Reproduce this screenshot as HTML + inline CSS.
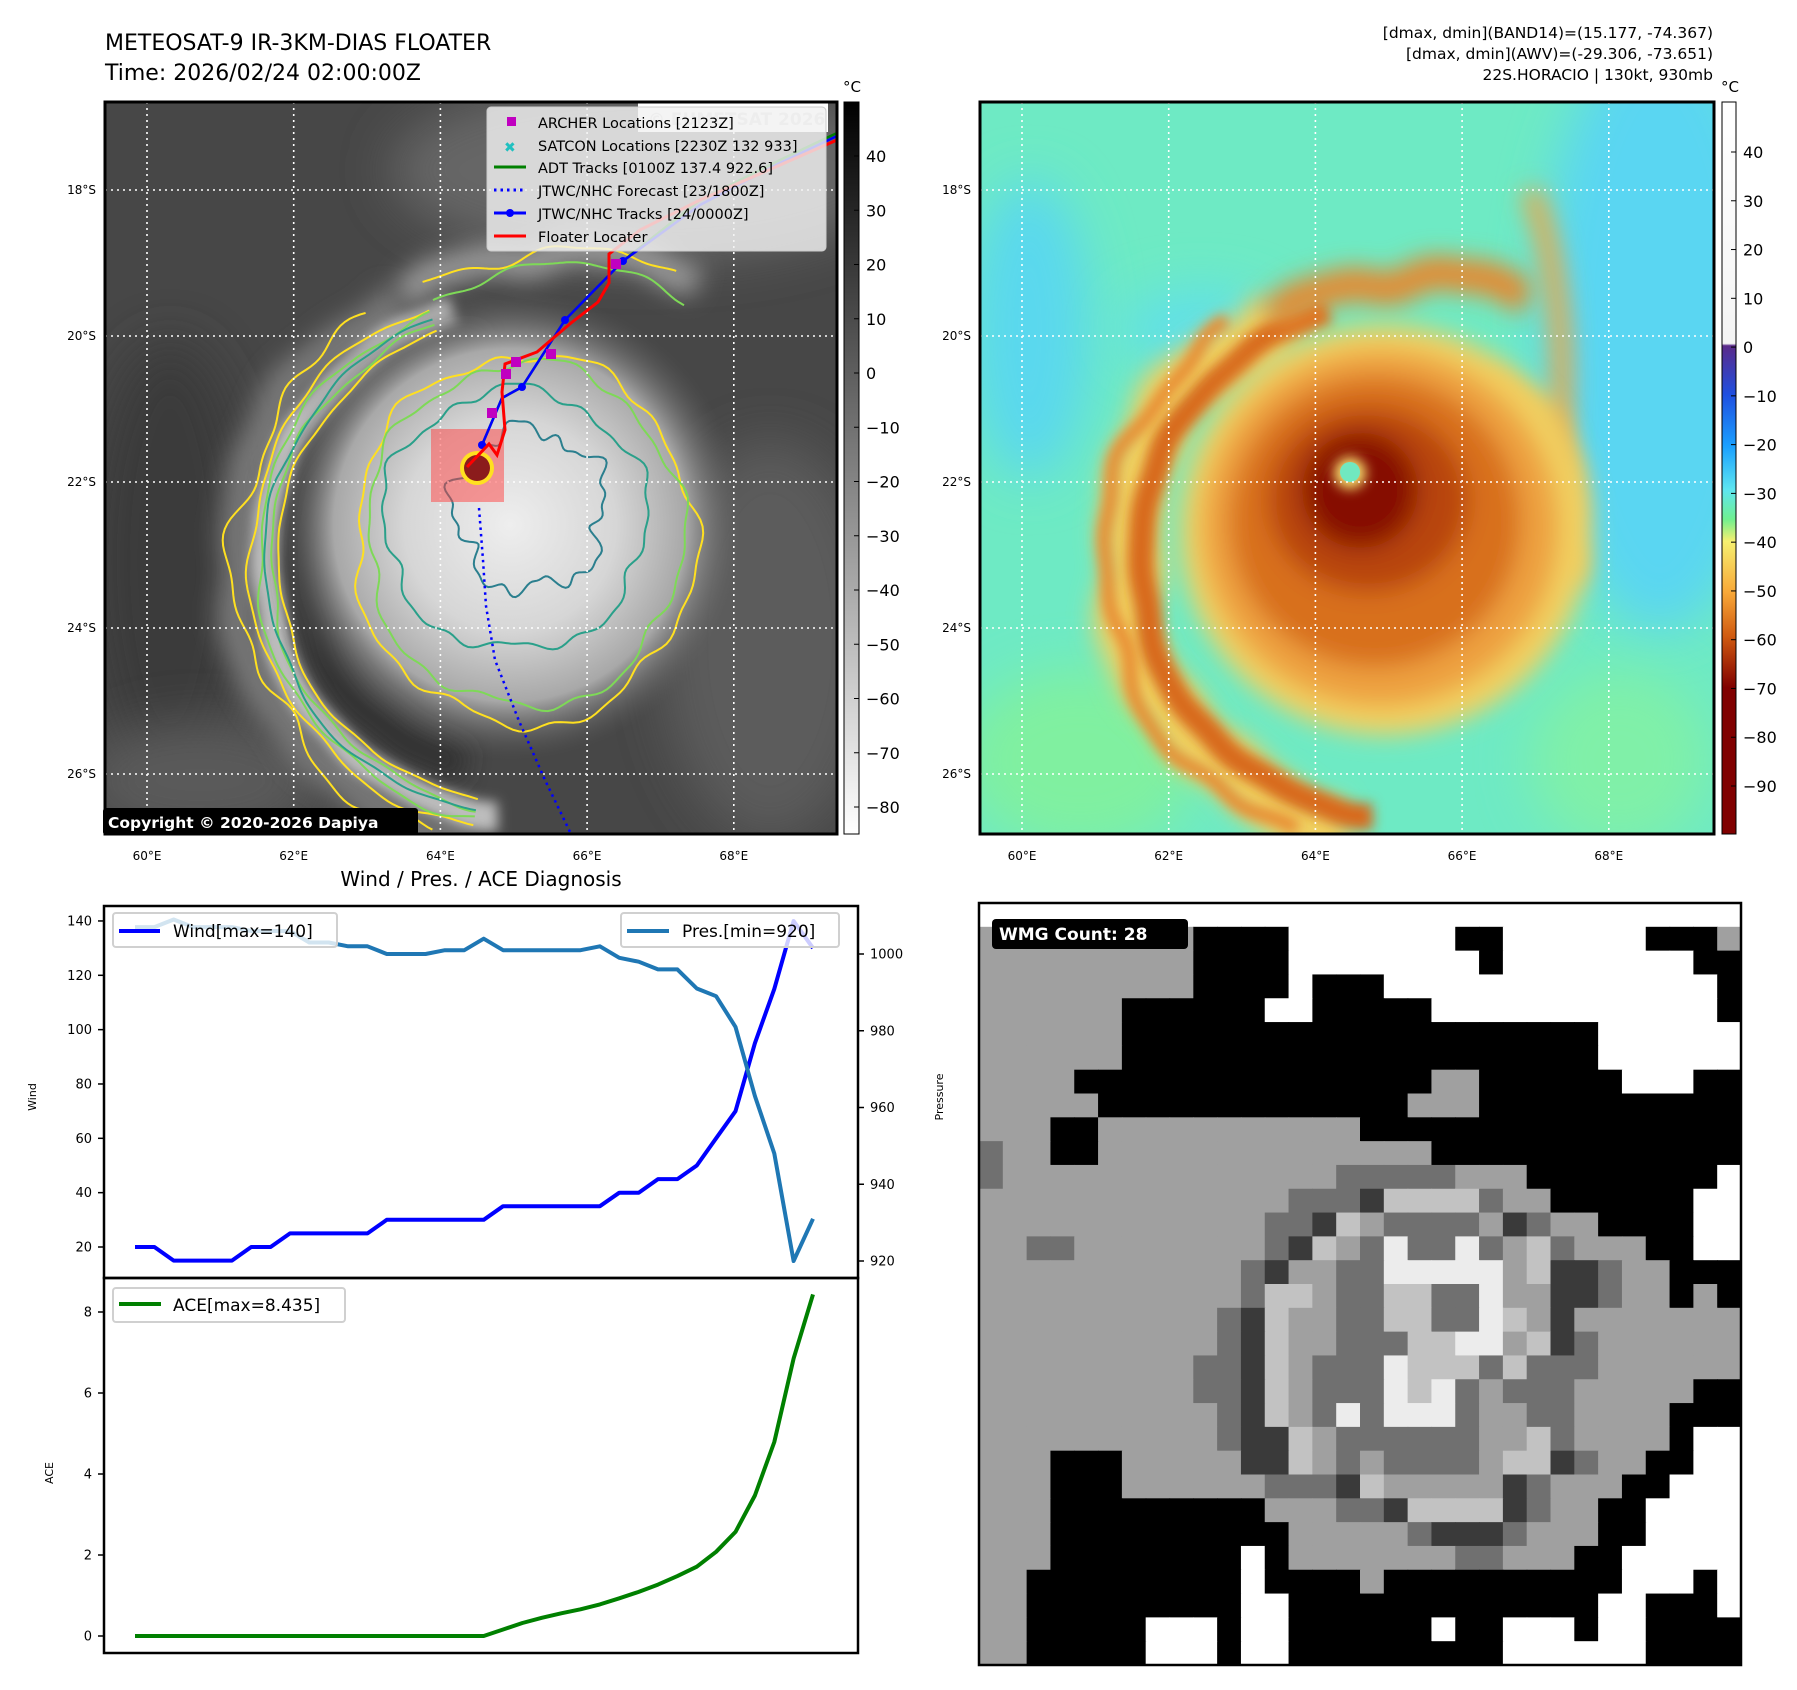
<!DOCTYPE html>
<html><head><meta charset="utf-8"><style>
html,body{margin:0;padding:0;background:#fff;}
svg{display:block;font-family:"DejaVu Sans","Liberation Sans",sans-serif;}
</style></head><body>
<svg id="fig" width="1797" height="1690" viewBox="0 0 1797 1690" xmlns="http://www.w3.org/2000/svg">
<defs>
<filter id="b6" filterUnits="userSpaceOnUse" x="0" y="0" width="1797" height="1690"><feGaussianBlur stdDeviation="6"/></filter>
<filter id="b12" filterUnits="userSpaceOnUse" x="0" y="0" width="1797" height="1690"><feGaussianBlur stdDeviation="12"/></filter>
<filter id="b25" filterUnits="userSpaceOnUse" x="0" y="0" width="1797" height="1690"><feGaussianBlur stdDeviation="25"/></filter>
<clipPath id="clipL"><rect x="105" y="102" width="732" height="732"/></clipPath>
<clipPath id="clipR"><rect x="980" y="102" width="734" height="732"/></clipPath>
<clipPath id="clipW"><rect x="979" y="903" width="762" height="762"/></clipPath>
<radialGradient id="coreL" cx="0.5" cy="0.5" r="0.5">
<stop offset="0" stop-color="#eeeeee"/><stop offset="0.45" stop-color="#d6d6d6"/><stop offset="0.75" stop-color="#a8a8a8"/><stop offset="1" stop-color="#5a5a5a" stop-opacity="0"/></radialGradient>
<linearGradient id="cbL" x1="0" y1="0" x2="0" y2="1"><stop offset="0" stop-color="#000"/><stop offset="1" stop-color="#fff"/></linearGradient>
<linearGradient id="cbR" x1="0" y1="0" x2="0" y2="1">
<stop offset="0" stop-color="#ffffff"/><stop offset="0.33" stop-color="#f4f4f4"/><stop offset="0.333" stop-color="#5a2a8a"/>
<stop offset="0.40" stop-color="#1f4fe0"/><stop offset="0.47" stop-color="#1aa0ff"/><stop offset="0.53" stop-color="#5ee6f0"/>
<stop offset="0.57" stop-color="#70f090"/><stop offset="0.60" stop-color="#f6f070"/><stop offset="0.67" stop-color="#f8a838"/>
<stop offset="0.73" stop-color="#d05a10"/><stop offset="0.80" stop-color="#800000"/><stop offset="1" stop-color="#800000"/></linearGradient>
</defs>

<text x="105" y="50" font-size="22">METEOSAT-9 IR-3KM-DIAS FLOATER</text>
<text x="105" y="80" font-size="22">Time: 2026/02/24 02:00:00Z</text>
<g font-size="15.5" text-anchor="end">
<text x="1713" y="38">[dmax, dmin](BAND14)=(15.177, -74.367)</text>
<text x="1713" y="59">[dmax, dmin](AWV)=(-29.306, -73.651)</text>
<text x="1713" y="80">22S.HORACIO | 130kt, 930mb</text>
</g>

<g clip-path="url(#clipL)">
<rect x="105" y="102" width="732" height="732" fill="#474747"/>
<ellipse cx="650" cy="170" rx="260" ry="90" fill="#666" filter="url(#b25)"/>
<ellipse cx="170" cy="560" rx="80" ry="220" fill="#3a3a3a" filter="url(#b25)"/>
<ellipse cx="770" cy="640" rx="110" ry="200" fill="#5c5c5c" filter="url(#b25)"/>
<ellipse cx="200" cy="780" rx="120" ry="60" fill="#5a5a5a" filter="url(#b25)"/>
<g id="bandsL"></g>
<circle cx="510" cy="525" r="235" fill="url(#coreL)"/>
<g id="contL" fill="none" stroke-width="2"></g>
</g>
<g id="gridL" stroke="#fff" stroke-width="1.6" stroke-dasharray="2,4"></g>
<g>
<rect x="431" y="429" width="73" height="73" fill="#ff4040" fill-opacity="0.5"/>
<circle cx="477" cy="468" r="17" fill="#ffe020"/><circle cx="477" cy="468" r="13" fill="#8b1c1c"/>
<polyline points="479,508 483,560 486,606 495,660 519,721 545,780 571,834" fill="none" stroke="#0000ff" stroke-width="2.5" stroke-dasharray="2.5,4"/>
<polyline points="482,445 502,398 522,387 565,320 623,261 700,200 780,160 837,133" fill="none" stroke="#008000" stroke-width="2.5"/>
<polyline points="482,445 502,398 522,387 565,320 623,261 700,205 780,163 837,136" fill="none" stroke="#0000ff" stroke-width="2.5"/>
<g fill="#0000ff"><circle cx="482" cy="445" r="4"/><circle cx="522" cy="387" r="4"/><circle cx="565" cy="320" r="4"/><circle cx="623" cy="261" r="4"/></g>
<polyline points="467,467 489,444 497,455 505,430 502,392 505,364 537,352 571,323 598,302 609,283 609,254 640,230 700,200 780,165 837,140" fill="none" stroke="#ff0000" stroke-width="3"/>
<g fill="#c000c0"><rect x="487" y="408" width="10" height="10"/><rect x="501" y="369" width="10" height="10"/><rect x="511" y="357" width="10" height="10"/><rect x="546" y="349" width="10" height="10"/><rect x="611" y="259" width="10" height="10"/></g>
</g>
<rect x="638" y="103" width="190" height="29" fill="#fff"/>
<text x="648" y="125" font-size="17" font-weight="bold" fill="#d8d8d8">© EUMETSAT 2026</text>
<g>
<rect x="487" y="107" width="339" height="144" rx="4" fill="#f2f2f2" fill-opacity="0.82" stroke="#ccc"/>
<g font-size="14.5">
<rect x="507" y="117" width="9" height="9" fill="#c000c0"/><text x="538" y="128">ARCHER Locations [2123Z]</text>
<text x="504" y="152" fill="#20c0c0" font-weight="bold" font-size="14">✖</text><text x="538" y="151">SATCON Locations [2230Z 132 933]</text>
<line x1="494" y1="167" x2="526" y2="167" stroke="#008000" stroke-width="3"/><text x="538" y="173">ADT Tracks [0100Z 137.4 922.6]</text>
<line x1="494" y1="190" x2="526" y2="190" stroke="#0000ff" stroke-width="3" stroke-dasharray="2.5,4"/><text x="538" y="196">JTWC/NHC Forecast [23/1800Z]</text>
<line x1="494" y1="213" x2="526" y2="213" stroke="#0000ff" stroke-width="3"/><circle cx="510" cy="213" r="4" fill="#0000ff"/><text x="538" y="219">JTWC/NHC Tracks [24/0000Z]</text>
<line x1="494" y1="236" x2="526" y2="236" stroke="#ff0000" stroke-width="3"/><text x="538" y="242">Floater Locater</text>
</g></g>
<rect x="105" y="102" width="732" height="732" fill="none" stroke="#000" stroke-width="3"/>
<rect x="103" y="808" width="315" height="27" rx="3" fill="#000"/>
<text x="108" y="828" font-size="15.5" font-weight="bold" fill="#fff">Copyright © 2020-2026 Dapiya</text>
<rect x="844" y="102" width="15" height="732" fill="url(#cbL)" stroke="#000" stroke-width="1"/>
<text x="852" y="92" font-size="15" text-anchor="middle">°C</text>
<g id="cbLticks" font-size="16"></g>

<g clip-path="url(#clipR)">
<rect x="980" y="102" width="734" height="732" fill="#6eeac4"/>
<ellipse cx="1660" cy="330" rx="120" ry="300" fill="#5ad6f2" filter="url(#b25)"/>
<ellipse cx="1030" cy="330" rx="60" ry="150" fill="#5ad8ee" filter="url(#b25)"/>
<ellipse cx="1200" cy="330" rx="80" ry="40" fill="#60e0e8" filter="url(#b25)"/>
<ellipse cx="1080" cy="760" rx="120" ry="90" fill="#80f0a0" filter="url(#b25)"/>
<ellipse cx="1620" cy="760" rx="90" ry="90" fill="#80f0a8" filter="url(#b25)"/>
<g id="bandsR"></g>
<g filter="url(#b12)">
<circle cx="1385" cy="530" r="205" fill="#f2d060"/>
<circle cx="1380" cy="528" r="178" fill="#eda040"/>
<circle cx="1375" cy="522" r="145" fill="#d8701e"/>
<ellipse cx="1368" cy="500" rx="100" ry="92" fill="#b84410"/>
<circle cx="1360" cy="490" r="58" fill="#860a00"/>
</g>
<circle cx="1350" cy="473" r="16" fill="#f6e070" filter="url(#b6)"/>
<circle cx="1350" cy="472" r="10" fill="#70e8c0"/>
</g>
<g id="gridR" stroke="#fff" stroke-width="1.6" stroke-dasharray="2,4"></g>
<rect x="980" y="102" width="734" height="732" fill="none" stroke="#000" stroke-width="3"/>
<rect x="1722" y="102" width="14" height="732" fill="url(#cbR)" stroke="#000" stroke-width="1"/>
<text x="1730" y="92" font-size="15" text-anchor="middle">°C</text>
<g id="cbRticks" font-size="16"></g>

<text x="481" y="886" font-size="20" text-anchor="middle">Wind / Pres. / ACE Diagnosis</text>
<g id="chart"></g>

<g id="wmg" clip-path="url(#clipW)"></g>
<rect x="979" y="903" width="762" height="762" fill="none" stroke="#000" stroke-width="2.5"/>
<rect x="992" y="919" width="196" height="30" rx="4" fill="#000"/>
<text x="999" y="940" font-size="17" font-weight="bold" fill="#fff">WMG Count: 28</text>
</svg>
<script>
const timeIndex = [0,1,2,3,4,5,6,7,8,9,10,11,12,13,14,15,16,17,18,19,20,21,22,23,24,25,26,27,28,29,30,31,32,33,34,35];
const windValues = [20,20,15,15,15,15,20,20,25,25,25,25,25,30,30,30,30,30,30,35,35,35,35,35,35,40,40,45,45,50,60,70,95,115,140,130];
const presValues = [1007,1007,1009,1007,1007,1007,1006,1006,1006,1003,1003,1002,1002,1000,1000,1000,1001,1001,1004,1001,1001,1001,1001,1001,1002,999,998,996,996,991,989,981,963,948,920,931];
const aceValues = [0,0,0,0,0,0,0,0,0,0,0,0,0,0,0,0,0,0,0,0.16,0.32,0.45,0.56,0.66,0.78,0.93,1.09,1.27,1.48,1.71,2.08,2.57,3.47,4.79,6.85,8.435];
const windTicks = [20,40,60,80,100,120,140];
const presTicks = [920,940,960,980,1000];
const aceTicks = [0,2,4,6,8];
const lonTicks = ["60°E","62°E","64°E","66°E","68°E"];
const latTicks = ["18°S","20°S","22°S","24°S","26°S"];
const irCbTicks = [40,30,20,10,0,-10,-20,-30,-40,-50,-60,-70,-80];
const awvCbTicks = [40,30,20,10,0,-10,-20,-30,-40,-50,-60,-70,-80,-90];
const wmgRows = [
"WWWWWWWWWWWWWWWWWWWWWWWWWWWWWWWW",
"GGGGGGGGGBBBBWWWWWWWBBWWWWWWBBBG",
"GGGGGGGGGBBBBWWWWWWWWBWWWWWWWWBB",
"GGGGGGGGGBBBBWBBBWWWWWWWWWWWWWWB",
"GGGGGGBBBBBBWWBBBBBWWWWWWWWWWWWB",
"GGGGGGBBBBBBBBBBBBBBBBBBBBWWWWWW",
"GGGGGGBBBBBBBBBBBBBBBBBBBBWWWWWW",
"GGGGBBBBBBBBBBBBBBBGGBBBBBBWWWBB",
"GGGGGBBBBBBBBBBBBBGGGBBBBBBBBBBB",
"GGGBBGGGGGGGGGGGBBBBBBBBBBBBBBBB",
"DGGBBGGGGGGGGGGGGGGBBBBBBBBBBBBB",
"DGGGGGGGGGGGGGGDDDDDGGGBBBBBBBBW",
"GGGGGGGGGGGGGDDDKLLLLDGGBBBBBBWW",
"GGGGGGGGGGGGDDKLGDDDDGKDGGBBBBWW",
"GGDDGGGGGGGGDKLGDHDDHDGLDGGGBBWW",
"GGGGGGGGGGGDKGGDDHHHHHGLKKDGGBBB",
"GGGGGGGGGGGDLLGDDLLDDHGGKKDGGBGB",
"GGGGGGGGGGDKLGGDDLLDDHLGKGGGGGGG",
"GGGGGGGGGGDKLGGDDDLLHHGLKDGGGGGG",
"GGGGGGGGGDDKLGDDDHLLLDLDDDGGGGGG",
"GGGGGGGGGDDKLGDDDHLHDGDDDGGGGGBB",
"GGGGGGGGGGDKLGDHDHHHDGGDDGGGGBBB",
"GGGGGGGGGGDKKLGDDDDDDGGLDGGGGBWW",
"GGGBBBGGGGGKKLGDGDDDDGLLKDGGBBWW",
"GGGBBBGGGGGGDDDKLGGGGGKDGGGBBWWW",
"GGGBBBBBBBBBGGGDDKLLLLKDGGBBWWWW",
"GGGBBBBBBBBBBGGGGGDKKKDGGGBBWWWW",
"GGGBBBBBBBBWBGGGGGGGDDGGGBBWWWWW",
"GGBBBBBBBBBWBBBBGBBBBBBBBBBWWWBW",
"GGBBBBBBBBBWWBBBBBBBBBBBBBWWBBBW",
"GGBBBBBWWWBWWBBBBBBWBBWWWBWWBBBB",
"GGBBBBBWWWBWWBBBBBBBBBWWWWWWBBBB"];

const NS='http://www.w3.org/2000/svg';
function mk(tag, attrs, parent, txt){const e=document.createElementNS(NS,tag);for(const k in attrs)e.setAttribute(k,attrs[k]);if(txt!==undefined)e.textContent=txt;parent.appendChild(e);return e;}

function mapGrid(gid, x0, y0, w){
  const g=document.getElementById(gid);
  const svg=document.getElementById('fig');
  lonTicks.forEach((t,i)=>{
    const x=x0+42+i*146.7;
    mk('line',{x1:x,y1:y0,x2:x,y2:y0+732},g);
    const lab=mk('text',{x:x,y:860,'font-size':12,'text-anchor':'middle'},svg,t);
    
    
  });
  latTicks.forEach((t,i)=>{
    const y=190+i*146;
    mk('line',{x1:x0,y1:y,x2:x0+w,y2:y},g);
    const lab=mk('text',{x:x0-9,y:y+4,'font-size':12,'text-anchor':'end'},svg,t);
    
    
  });
}
mapGrid('gridL',105,102,732);
mapGrid('gridR',980,102,734);

function cbTicks(gid, ticks, x, yOf){
  const g=document.getElementById(gid);
  ticks.forEach(v=>{
    const y=yOf(v);
    mk('line',{x1:x-6,y1:y,x2:x-1,y2:y,stroke:'#000','stroke-width':1},g);
    const t=mk('text',{x:x+6,y:y+6},g,(v<0?'\u2212'+(-v):String(v)));
    
    
  });
}
cbTicks('cbLticks', irCbTicks, 860, v=>156+(40-v)*5.425);
cbTicks('cbRticks', awvCbTicks, 1737, v=>152+(40-v)*4.877);

function arcPath(cx,cy,r,a0,a1,wob,seed){
  let d='';
  for(let k=0;k<=120;k++){
    const a=(a0+(a1-a0)*k/120)*Math.PI/180;
    const rr=r+wob*(Math.sin(a*7+seed)+0.6*Math.sin(a*13+seed*2)+0.4*Math.sin(a*23+seed*3));
    d+=(k?'L':'M')+(cx+rr*Math.cos(a)).toFixed(1)+','+(cy+rr*Math.sin(a)).toFixed(1);
  }
  return d;
}
function closedPath(cx,cy,rx,ry,wob,seed){
  let d='';
  for(let k=0;k<=180;k++){
    const a=k/180*2*Math.PI;
    const f=1+wob*(Math.sin(a*5+seed)*0.5+Math.sin(a*11+seed*2)*0.3+Math.sin(a*19+seed*3)*0.2);
    d+=(k?'L':'M')+(cx+rx*f*Math.cos(a)).toFixed(1)+','+(cy+ry*f*Math.sin(a)).toFixed(1);
  }
  return d+'Z';
}
(function(){
  const bl=document.getElementById('bandsL');
  mk('path',{d:arcPath(520,560,285,100,245,4,1),fill:'none',stroke:'#777','stroke-width':40,filter:'url(#b12)'},bl);
  mk('path',{d:arcPath(520,560,255,95,255,2,2),fill:'none',stroke:'#bdbdbd','stroke-width':30,filter:'url(#b6)'},bl);
  mk('path',{d:arcPath(520,560,215,105,260,2,3),fill:'none',stroke:'#303030','stroke-width':36,filter:'url(#b12)'},bl);
  mk('path',{d:arcPath(560,520,270,235,300,6,4),fill:'none',stroke:'#9a9a9a','stroke-width':30,filter:'url(#b12)'},bl);
  const cl=document.getElementById('contL');
  [[285,'#ffe020',8,5],[270,'#ffe020',3,6],[262,'#7ed957',3,7],[250,'#7ed957',3,8],[242,'#ffe020',2,9],[255,'#2aa08a',2,10]].forEach(c=>{
    mk('path',{d:arcPath(520,560,c[0],c[0]>275?108:100,c[0]>275?238:250,c[2],c[3])},cl).setAttribute('stroke',c[1]);
  });
  mk('path',{d:arcPath(560,520,270,240,295,6,11),stroke:'#ffe020'},cl);
  mk('path',{d:arcPath(560,520,255,240,300,4,12),stroke:'#7ed957'},cl);
  mk('path',{d:closedPath(525,540,170,185,0.06,1),stroke:'#ffe020'},cl);
  mk('path',{d:closedPath(525,535,158,172,0.06,2),stroke:'#7ed957'},cl);
  mk('path',{d:closedPath(515,520,132,130,0.08,3),stroke:'#2aa08a'},cl);
  mk('path',{d:closedPath(530,510,75,80,0.2,4),stroke:'#2b7f8e'},cl);
  const br=document.getElementById('bandsR');
  mk('path',{d:arcPath(1395,560,270,100,245,6,1),fill:'none',stroke:'#f0d060','stroke-width':60,filter:'url(#b12)'},br);
  mk('path',{d:arcPath(1395,560,255,95,255,2,2),fill:'none',stroke:'#d86a1c','stroke-width':26,filter:'url(#b6)'},br);
  mk('path',{d:arcPath(1395,560,290,110,235,5,3),fill:'none',stroke:'#e88a30','stroke-width':14,filter:'url(#b6)'},br);
  mk('path',{d:arcPath(1420,530,255,235,295,6,4),fill:'none',stroke:'#e48a30','stroke-width':34,filter:'url(#b12)'},br);
  mk('path',{d:arcPath(1400,520,170,300,380,5,5),fill:'none',stroke:'#f0c050','stroke-width':30,filter:'url(#b12)'},br);
  mk('path',{d:'M1530,190 C1560,260 1570,380 1555,470',fill:'none',stroke:'#eaa848','stroke-width':20,filter:'url(#b12)'},br);
})();

(function(){
  const g=document.getElementById('chart');
  const X0=104, X1=858, T=906, M=1278, B=1653;
  const xs=i=>135+i*(813-135)/35;
  const yw=v=>1247-(v-20)*2.717;
  const yp=p=>1261-(p-920)*3.8375;
  const ya=a=>1636-a*40.5;
  mk('rect',{x:X0,y:T,width:X1-X0,height:M-T,fill:'#fff'},g);
  mk('rect',{x:X0,y:M,width:X1-X0,height:B-M,fill:'#fff'},g);
  windTicks.forEach(v=>{const y=yw(v);mk('line',{x1:X0-6,y1:y,x2:X0,y2:y,stroke:'#000','stroke-width':1.5},g);
    const t=mk('text',{x:X0-12,y:y+4.5,'font-size':13,'text-anchor':'end'},g,String(v));
    
    });
  presTicks.forEach(v=>{const y=yp(v);mk('line',{x1:X1,y1:y,x2:X1+6,y2:y,stroke:'#000','stroke-width':1.5},g);
    const t=mk('text',{x:X1+12,y:y+4.5,'font-size':13},g,String(v));
    
    });
  aceTicks.forEach(v=>{const y=ya(v);mk('line',{x1:X0-6,y1:y,x2:X0,y2:y,stroke:'#000','stroke-width':1.5},g);
    const t=mk('text',{x:X0-12,y:y+4.5,'font-size':13,'text-anchor':'end'},g,String(v));
    
    });
  let t=mk('text',{x:36,y:1097,'font-size':11,'text-anchor':'middle',transform:'rotate(-90 36 1097)'},g,'Wind');
  
  
  t=mk('text',{x:943,y:1097,'font-size':11,'text-anchor':'middle',transform:'rotate(-90 943 1097)'},g,'Pressure');
  
  
  t=mk('text',{x:53,y:1473,'font-size':11,'text-anchor':'middle',transform:'rotate(-90 53 1473)'},g,'ACE');
  
  
  const pts=(arr,f)=>arr.map((v,i)=>xs(timeIndex[i]).toFixed(1)+','+f(v).toFixed(1)).join(' ');
  let l=mk('polyline',{points:pts(windValues,yw),fill:'none',stroke:'#0000ff','stroke-width':4,'stroke-linejoin':'round'},g);
  
  
  l=mk('polyline',{points:pts(presValues,yp),fill:'none',stroke:'#1f77b4','stroke-width':4,'stroke-linejoin':'round'},g);
  
  
  l=mk('polyline',{points:pts(aceValues,ya),fill:'none',stroke:'#008000','stroke-width':4,'stroke-linejoin':'round'},g);
  
  
  let lg=mk('g',{},g);
  
  
  mk('rect',{x:113,y:913,width:224,height:34,rx:3,fill:'#fff','fill-opacity':0.8,stroke:'#d0d0d0','stroke-width':2},lg);
  mk('line',{x1:119,y1:931,x2:160,y2:931,stroke:'#0000ff','stroke-width':4},lg);
  mk('text',{x:173,y:937,'font-size':17},lg,'Wind[max=140]');
  lg=mk('g',{},g);
  
  
  mk('rect',{x:621,y:913,width:218,height:34,rx:3,fill:'#fff','fill-opacity':0.8,stroke:'#d0d0d0','stroke-width':2},lg);
  mk('line',{x1:627,y1:931,x2:669,y2:931,stroke:'#1f77b4','stroke-width':4},lg);
  mk('text',{x:682,y:937,'font-size':17},lg,'Pres.[min=920]');
  lg=mk('g',{},g);
  
  
  mk('rect',{x:113,y:1288,width:232,height:34,rx:3,fill:'#fff','fill-opacity':0.8,stroke:'#d0d0d0','stroke-width':2},lg);
  mk('line',{x1:119,y1:1304,x2:161,y2:1304,stroke:'#008000','stroke-width':4},lg);
  mk('text',{x:173,y:1311,'font-size':17},lg,'ACE[max=8.435]');
  mk('rect',{x:X0,y:T,width:X1-X0,height:M-T,fill:'none',stroke:'#000','stroke-width':2.5},g);
  mk('rect',{x:X0,y:M,width:X1-X0,height:B-M,fill:'none',stroke:'#000','stroke-width':2.5},g);
})();

(function(){
  const g=document.getElementById('wmg');
  const col={W:'#ffffff',B:'#000000',G:'#a0a0a0',D:'#707070',K:'#3a3a3a',L:'#c2c2c2',H:'#ececec'};
  const cs=762/32;
  wmgRows.forEach((row,r)=>{
    for(let c=0;c<row.length;c++){
      mk('rect',{x:(979+c*cs).toFixed(2),y:(903+r*cs).toFixed(2),width:(cs+0.6).toFixed(2),height:(cs+0.6).toFixed(2),fill:col[row[c]]},g);
    }
  });
})();
</script>
</body></html>
